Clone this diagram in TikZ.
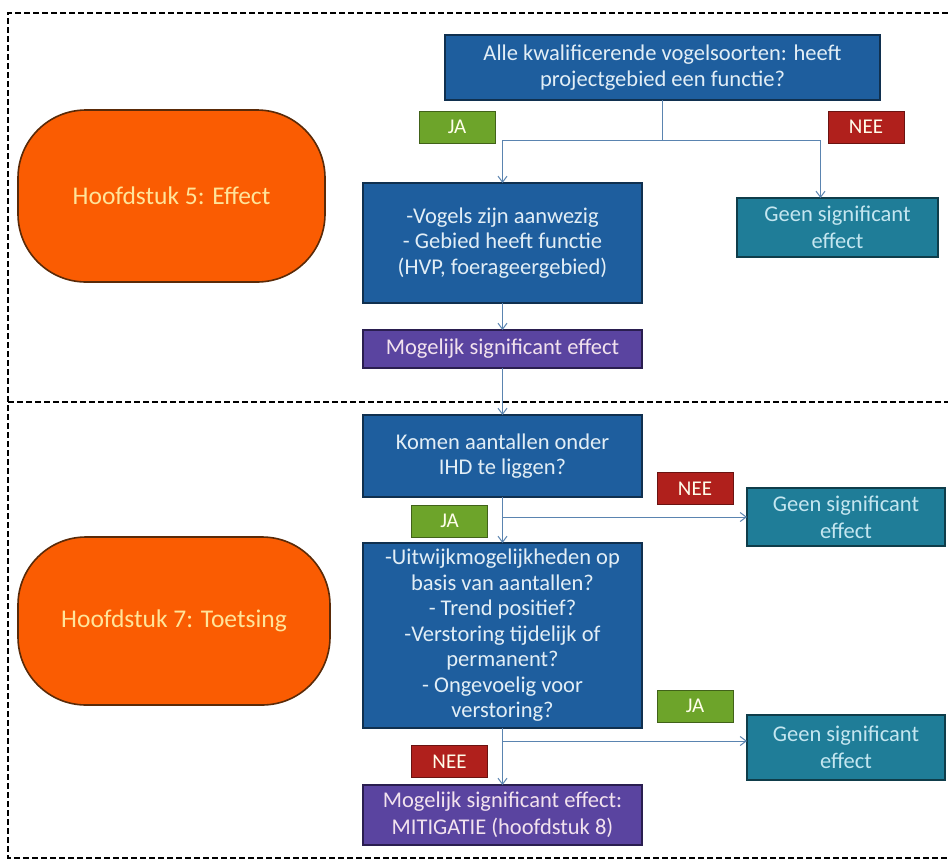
\documentclass[tikz,border=0pt]{standalone}
\usepackage{fontspec}
\setmainfont{Carlito}
\usetikzlibrary{arrows.meta,positioning}
\definecolor{boxblue}{HTML}{1E5E9E}
\definecolor{boxblueline}{HTML}{10304F}
\definecolor{boxteal}{HTML}{1F7D98}
\definecolor{boxtealline}{HTML}{0F3D4A}
\definecolor{boxpurple}{HTML}{5A44A0}
\definecolor{boxpurpleline}{HTML}{2A1E50}
\definecolor{labgreen}{HTML}{6DA42A}
\definecolor{labred}{HTML}{B0201C}
\definecolor{hoofdorange}{HTML}{FA5C02}
\definecolor{hoofdline}{HTML}{5A2A08}
\definecolor{hoofdtext}{HTML}{FFE49A}
\definecolor{txtlight}{HTML}{E2EEF6}
\definecolor{txtteal}{HTML}{C4E6F0}
\definecolor{txtpurple}{HTML}{F2E2EE}
\definecolor{arrowcol}{HTML}{5A84B0}
\tikzset{
  x=1pt,y=-1pt,
  every node/.style={inner sep=0pt, outer sep=0pt, align=center},
  bluebox/.style={draw=boxblueline, line width=1.4pt, fill=boxblue, text=txtlight,
    font=\fontsize{22.5}{25.5}\selectfont},
  tealbox/.style={draw=boxtealline, line width=1.4pt, fill=boxteal, text=txtteal,
    font=\fontsize{22.5}{27}\selectfont},
  purplebox/.style={draw=boxpurpleline, line width=1.4pt, fill=boxpurple, text=txtpurple,
    font=\fontsize{22.5}{27}\selectfont},
  jalabel/.style={draw=labgreen!60!black, line width=0.8pt, fill=labgreen, text=white!92!yellow,
    minimum width=76pt, minimum height=32pt, font=\fontsize{21}{22}\selectfont},
  neelabel/.style={draw=labred!60!black, line width=0.8pt, fill=labred, text=white!92!yellow,
    minimum width=76pt, minimum height=32pt, font=\fontsize{21}{22}\selectfont},
  hoofd/.style={draw=hoofdline, line width=1.6pt, fill=hoofdorange, text=hoofdtext,
    rounded corners=68pt, font=\fontsize{25.5}{28}\selectfont},
  frame/.style={draw=black, line width=1.8pt, dash pattern=on 6pt off 3pt},
  arr/.style={draw=arrowcol, line width=1pt, -{Straight Barb[length=6pt,width=9pt]}},
  conn/.style={draw=arrowcol, line width=1pt},
}
\begin{document}
\begin{tikzpicture}
\useasboundingbox (0,0) rectangle (948,863);
\fill[white] (0,0) rectangle (948,863);
% frames
\draw[frame] (948,13) -- (8,13) -- (8,858) -- (948,858);
\draw[frame] (8,402) -- (948,402);

% chapter boxes
\node[hoofd, minimum width=307pt, minimum height=172pt] (h5) at (171.5,196) {Hoofdstuk 5: Effect};
\node[hoofd, minimum width=312pt, minimum height=168pt] (h7) at (174,621) {Hoofdstuk 7: Toetsing};

% boxes
\node[bluebox, minimum width=435pt, minimum height=65pt] (q1) at (662.5,67.5)
  {Alle kwalificerende vogelsoorten: heeft\\projectgebied een functie?};
\node[bluebox, minimum width=279pt, minimum height=120pt] (vog) at (502.5,243)
  {-Vogels zijn aanwezig\\- Gebied heeft functie\\(HVP, foerageergebied)};
\node[tealbox, minimum width=201pt, minimum height=59pt] (g1) at (837.5,227.5)
  {Geen significant\\effect};
\node[purplebox, minimum width=279pt, minimum height=38pt] (m1) at (502.5,349)
  {Mogelijk significant effect};
\node[bluebox, minimum width=279pt, minimum height=82pt] (q2) at (502.5,456)
  {Komen aantallen onder\\IHD te liggen?};
\node[tealbox, minimum width=198pt, minimum height=58pt] (g2) at (846,517)
  {Geen significant\\effect};
\node[bluebox, minimum width=279pt, minimum height=185pt] (q3) at (502.5,635.5)
  {-Uitwijkmogelijkheden op\\basis van aantallen?\\- Trend positief?\\-Verstoring tijdelijk of\\permanent?\\- Ongevoelig voor\\verstoring?};
\node[tealbox, minimum width=198pt, minimum height=65pt] (g3) at (846,747.5)
  {Geen significant\\effect};
\node[purplebox, minimum width=279pt, minimum height=60pt] (m2) at (502.5,815)
  {Mogelijk significant effect:\\MITIGATIE (hoofdstuk 8)};

% labels
\node[jalabel] (ja1) at (457,127) {JA};
\node[neelabel] (nee1) at (866,127) {NEE};
\node[neelabel] (nee2) at (695,488.5) {NEE};
\node[jalabel] (ja2) at (449.5,521) {JA};
\node[jalabel] (ja3) at (695,706) {JA};
\node[neelabel] (nee3) at (449.5,761.5) {NEE};

% connectors
\coordinate (s1) at (q1.south |- 0,140);
\draw[conn] (q1.south) -- (s1);
\draw[arr] (s1) -| (vog.north);
\draw[arr] (s1) -| ([xshift=-17pt]g1.north);
\draw[arr] (vog.south) -- (m1.north);
\draw[arr] (m1.south) -- (q2.north);
\draw[arr] (q2.south) -- (q3.north);
\draw[arr] (q2.south |- g2.west) -- (g2.west);
\draw[arr] (q3.south) -- (m2.north);
\coordinate (s3) at (q3.south |- 0,741);
\draw[arr] (s3) -- (s3 -| g3.west);
\end{tikzpicture}
\end{document}
